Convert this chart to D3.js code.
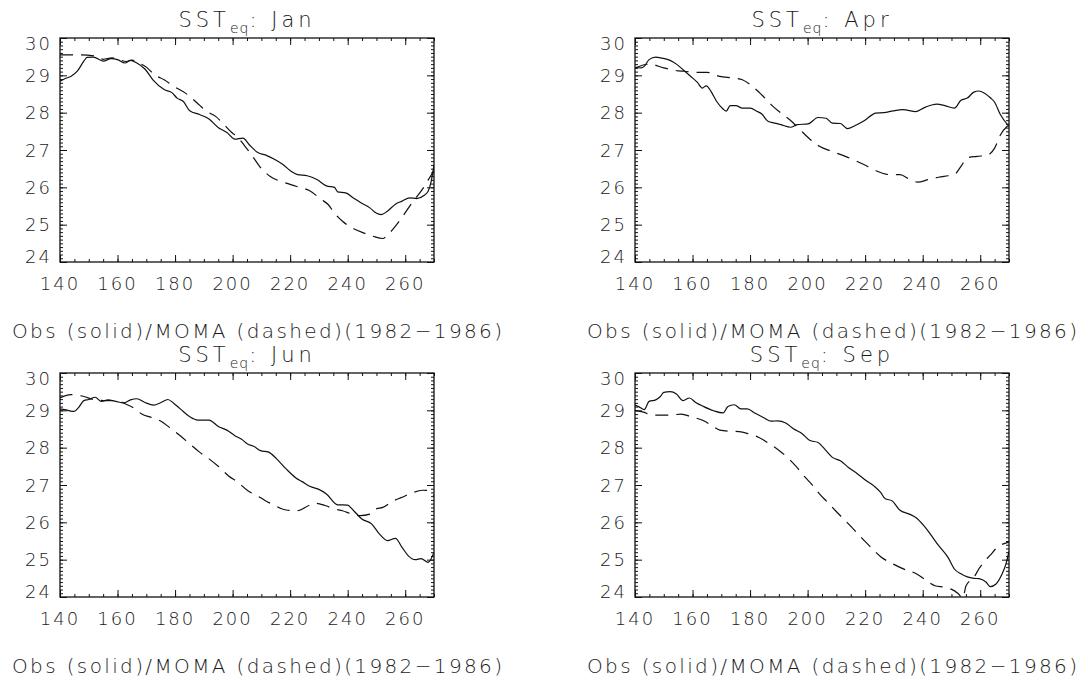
<!DOCTYPE html>
<html>
<head>
<meta charset="utf-8">
<script src="https://cdn.jsdelivr.net/npm/d3@7"></script>
<style>
  body { margin: 0; background: #fff; }
  svg { display: block; }
  text { font-family: "DejaVu Sans", sans-serif; font-weight: 200; fill: #1a1a1a; }
</style>
</head>
<body>
<svg id="chart"></svg>
<script>
// longitude axis and SST axis
var xTicks = [140, 160, 180, 200, 220, 240, 260];
var yTicks = [24, 25, 26, 27, 28, 29, 30];
var months = ["Jan", "Apr", "Jun", "Sep"];
var caption = "Obs (solid)/MOMA (dashed)(1982\u22121986)";

// [longitude, SST]
var janObs = [[140,28.84],[142,28.92],[144,28.98],[146,29.11],[148.3,29.38],[149.4,29.48],[151.6,29.49],[155,29.38],[157.8,29.45],[160,29.42],[162.6,29.33],[164.5,29.4],[166.7,29.33],[169.5,29.17],[172.3,28.88],[176.2,28.62],[179,28.53],[180.7,28.39],[182.9,28.3],[185.1,28.05],[188.5,27.95],[191.8,27.83],[195.2,27.59],[198,27.47],[200.8,27.29],[203.6,27.32],[205.8,27.14],[208.6,26.94],[211.9,26.85],[215.3,26.72],[217.5,26.61],[220.3,26.43],[222.6,26.34],[225.9,26.31],[229.3,26.21],[232.6,26.04],[235.4,26.0],[236.5,25.88],[239.3,25.85],[242.1,25.71],[244.3,25.6],[247.7,25.45],[249.9,25.31],[251.6,25.27],[253.8,25.36],[256.6,25.55],[258.9,25.63],[261.5,25.72],[264,25.7],[266.5,25.78],[268,25.9],[269,26.15],[270,26.6]];
var janModel = [[140,29.55],[146,29.55],[152,29.52],[155,29.43],[158,29.47],[160,29.44],[163,29.37],[165,29.41],[168,29.31],[170,29.22],[172.8,29.02],[176.2,28.88],[179.5,28.71],[183.5,28.53],[187.4,28.28],[190.7,28.05],[194.1,27.9],[196.3,27.74],[199.7,27.47],[201.9,27.33],[204.1,27.12],[206.4,26.89],[209.7,26.53],[213.1,26.29],[217.5,26.14],[222,26.03],[226.5,25.92],[230.9,25.67],[233.2,25.54],[235.4,25.31],[238.2,25.09],[242.1,24.89],[245.5,24.78],[248.8,24.69],[252.2,24.63],[253.8,24.72],[256.6,24.96],[258.9,25.2],[262.5,25.6],[266,25.95],[268,26.2],[270,26.45]];
var aprObs = [[140,29.21],[142.1,29.2],[143.2,29.24],[144.9,29.42],[147.2,29.49],[149.4,29.46],[152.2,29.4],[154.4,29.3],[156.7,29.15],[159.4,28.97],[161.7,28.81],[163.4,28.66],[164.8,28.72],[166.4,28.57],[168.4,28.3],[170.6,28.1],[171.7,28.04],[173.1,28.19],[175.1,28.19],[177.3,28.12],[180.1,28.12],[182.3,28.04],[184,27.97],[186.2,27.77],[188.5,27.72],[190.7,27.68],[194.1,27.61],[196.3,27.68],[200.2,27.7],[203.6,27.87],[206.4,27.85],[208.6,27.72],[211.4,27.71],[213.9,27.57],[216.4,27.65],[219.8,27.79],[223.7,27.99],[226.5,28.0],[229.8,28.05],[233.2,28.08],[237.6,28.03],[241,28.15],[244.9,28.23],[247.7,28.19],[251,28.12],[253.3,28.33],[255.5,28.39],[257.8,28.55],[259.5,28.58],[261.5,28.52],[263.5,28.4],[265,28.28],[267,27.95],[270,27.63]];
var aprModel = [[140,29.2],[145,29.3],[150,29.2],[155,29.12],[157.2,29.11],[160.6,29.08],[165,29.08],[169.5,28.97],[174,28.93],[177.3,28.88],[180.7,28.71],[184,28.48],[187.4,28.21],[190.7,27.99],[194.1,27.79],[197.4,27.54],[200.8,27.29],[204.1,27.1],[208.6,26.96],[213.1,26.83],[216.4,26.72],[220.9,26.56],[224.2,26.43],[228.7,26.34],[232.1,26.34],[235.4,26.22],[238.2,26.14],[242.1,26.21],[245.5,26.27],[248.8,26.31],[251,26.34],[253.3,26.56],[255.5,26.79],[258.9,26.83],[262.5,26.86],[265,27.05],[267,27.4],[270,27.68]];
var junObs = [[140,29.04],[142.1,29.01],[144.9,28.97],[146.5,29.08],[148.3,29.26],[150,29.29],[152.2,29.35],[154.4,29.24],[156.7,29.28],[159.4,29.24],[162.2,29.2],[164.5,29.28],[166.7,29.31],[169.5,29.21],[172.6,29.14],[175.1,29.21],[177.5,29.29],[179.5,29.19],[181.8,29.04],[185.1,28.83],[187.9,28.74],[191.8,28.74],[195.2,28.56],[198,28.47],[200.8,28.32],[203,28.23],[205.2,28.1],[207.5,28.03],[209.7,27.92],[212.5,27.88],[215.3,27.7],[218.6,27.43],[222,27.19],[224.2,27.09],[227,26.96],[229.8,26.89],[232.6,26.76],[236.5,26.47],[239.9,26.46],[242.1,26.31],[244.9,26.09],[248.3,25.96],[251,25.69],[253.8,25.51],[256.6,25.57],[258.9,25.33],[261,25.11],[263.5,25.0],[265.5,25.03],[268,24.93],[270,25.2]];
var junModel = [[140,29.33],[143.8,29.42],[148.3,29.37],[151.6,29.29],[156.1,29.26],[159.4,29.26],[162.8,29.17],[166.1,29.04],[168.4,28.9],[171.7,28.81],[175.1,28.71],[178.4,28.52],[181.8,28.32],[185.1,28.1],[188.5,27.88],[191.8,27.7],[195.2,27.49],[198.5,27.25],[201.9,27.07],[205.2,26.85],[208.6,26.71],[211.4,26.58],[214.2,26.47],[218.6,26.33],[222.6,26.31],[226.5,26.45],[228.7,26.51],[232.1,26.45],[235.4,26.36],[238.2,26.31],[241.5,26.22],[244.3,26.18],[247.7,26.22],[249.9,26.36],[252.2,26.4],[255.5,26.56],[258.9,26.67],[262.1,26.78],[266,26.86],[268,26.85],[270,26.7]];
var sepObs = [[140,29.14],[141.7,29.08],[143.2,29.02],[144.9,29.24],[147.2,29.28],[148.8,29.37],[150,29.48],[152.2,29.5],[154.4,29.44],[156.7,29.26],[158.9,29.33],[161.1,29.21],[163.9,29.1],[167.3,28.99],[170.6,28.93],[172.3,29.1],[174.5,29.15],[176.8,29.04],[179,29.04],[181.8,28.92],[184.6,28.81],[187.4,28.71],[189.6,28.72],[192.4,28.66],[195.2,28.5],[198,28.38],[200.8,28.19],[203.6,28.14],[206.4,27.92],[208.6,27.74],[211.4,27.65],[214.2,27.47],[217.5,27.29],[220.3,27.12],[223.1,26.97],[225.4,26.8],[227,26.63],[229.3,26.58],[232,26.33],[235.4,26.22],[237.6,26.13],[240.4,25.91],[242.6,25.69],[245.5,25.38],[248.8,25.06],[251,24.75],[253.3,24.62],[255.5,24.54],[257.8,24.5],[259.6,24.49],[262,24.4],[263.5,24.28],[265.5,24.35],[267.5,24.6],[269,24.9],[270,25.22]];
var sepModel = [[140,29.0],[143,28.95],[146,28.87],[152,28.87],[156.1,28.9],[159.4,28.83],[163.9,28.72],[166.7,28.59],[169.5,28.47],[172.8,28.44],[176.2,28.43],[179.5,28.37],[182.9,28.28],[186.8,28.1],[190.2,27.92],[193.5,27.7],[196.3,27.47],[199.1,27.21],[201.3,27.03],[204.1,26.76],[206.9,26.54],[209.7,26.31],[212.5,26.09],[215.3,25.87],[218.6,25.6],[222,25.33],[225.4,25.08],[229.8,24.88],[234.3,24.72],[237.6,24.63],[241,24.46],[244.3,24.3],[247.7,24.26],[249.9,24.21],[252.2,24.1],[254,23.97],[255,24.29],[258,24.55],[259.5,24.75],[262,25.0],[263.5,25.12],[265.5,25.3],[270,25.47]];

var obsSeries = [janObs, aprObs, junObs, sepObs];
var modelSeries = [janModel, aprModel, junModel, sepModel];

var width = 1088, height = 680;
var plotW = 374, plotH = 224;
var origins = [[60, 38], [635, 38], [60, 373], [635, 373]];

var svg = d3.select("#chart").attr("width", width).attr("height", height);

var x = d3.scaleLinear().domain([140, 270]).range([0, plotW]);
var y = d3.scaleLinear().domain([24, 30]).range([plotH, 0]);

var line = d3.line()
    .x(d => x(d[0]))
    .y(d => y(d[1]))
    .curve(d3.curveMonotoneX);

var xMinor = d3.range(140, 271, 5);
var yMinor = d3.range(240, 301).map(v => v / 10);

months.forEach(function(month, i) {
    var g = svg.append("g")
        .attr("transform", `translate(${origins[i][0]},${origins[i][1]})`);

    g.append("clipPath").attr("id", "clip" + i)
      .append("rect").attr("width", plotW).attr("height", plotH);

    // ticks point into the box, on all four sides
    function ticks(axis, tr) {
        var a = g.append("g").attr("transform", tr).call(axis);
        a.select(".domain").remove();
        a.selectAll("line").attr("stroke", "#111").attr("stroke-width", 1);
        a.selectAll("text").remove();
    }
    ticks(d3.axisBottom(x).tickValues(xMinor).tickSize(-3), `translate(0,${plotH})`);
    ticks(d3.axisBottom(x).tickValues(xTicks).tickSize(-7), `translate(0,${plotH})`);
    ticks(d3.axisTop(x).tickValues(xMinor).tickSize(-3), "translate(0,0)");
    ticks(d3.axisTop(x).tickValues(xTicks).tickSize(-7), "translate(0,0)");
    ticks(d3.axisLeft(y).tickValues(yMinor).tickSize(-3), "translate(0,0)");
    ticks(d3.axisLeft(y).tickValues(yTicks).tickSize(-7), "translate(0,0)");
    ticks(d3.axisRight(y).tickValues(yMinor).tickSize(-3), `translate(${plotW},0)`);
    ticks(d3.axisRight(y).tickValues(yTicks).tickSize(-7), `translate(${plotW},0)`);

    g.append("rect")
        .attr("width", plotW).attr("height", plotH)
        .attr("fill", "none").attr("stroke", "#111").attr("stroke-width", 1.3);

    // tick labels
    g.selectAll(".xl").data(xTicks).enter().append("text")
        .attr("x", d => x(d)).attr("y", plotH + 28)
        .attr("text-anchor", "middle")
        .attr("font-size", 18).attr("letter-spacing", 2)
        .text(d => d);

    g.selectAll(".yl").data(yTicks).enter().append("text")
        .attr("x", -8)
        .attr("y", d => y(d) + (d === 30 ? 12 : d === 24 ? 1 : 6.5))
        .attr("text-anchor", "end")
        .attr("font-size", 18).attr("letter-spacing", 2)
        .text(d => d);

    // curves
    var lines = g.append("g").attr("clip-path", `url(#clip${i})`);
    lines.append("path").datum(obsSeries[i])
        .attr("d", line).attr("fill", "none")
        .attr("stroke", "#111").attr("stroke-width", 1.2);
    lines.append("path").datum(modelSeries[i])
        .attr("d", line).attr("fill", "none")
        .attr("stroke", "#111").attr("stroke-width", 1.2)
        .attr("stroke-dasharray", "13,8");

    // title SST_eq: Mon
    var t = g.append("text")
        .attr("x", plotW / 2).attr("y", -11)
        .attr("text-anchor", "middle")
        .attr("font-size", 21).attr("letter-spacing", 4);
    t.append("tspan").text("SST");
    t.append("tspan").attr("dy", 6).attr("font-size", 14).attr("letter-spacing", 1).text("eq");
    t.append("tspan").attr("dy", -6).text(": " + month);

    g.append("text")
        .attr("x", -48).attr("y", plotH + 76)
        .attr("font-size", 20)
        .attr("textLength", 490).attr("lengthAdjust", "spacing")
        .text(caption);
});
</script>
</body>
</html>
